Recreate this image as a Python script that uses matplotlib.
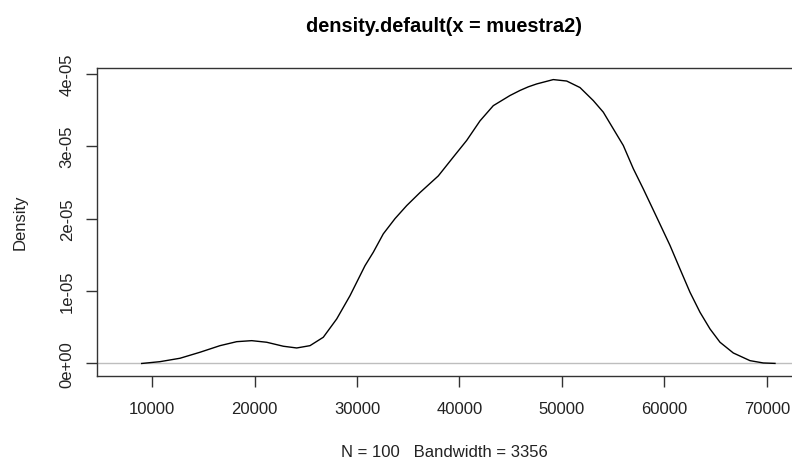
import numpy as np
import matplotlib
matplotlib.use('Agg')
import matplotlib.pyplot as plt

# density curve of muestra2
dens_x = [8995, 10780, 12732, 14683, 16634, 18263, 19727, 21190, 22810,
          24117, 25415, 26712, 28020, 29317, 30780, 31590, 32566, 33707,
          34848, 36146, 37932, 39395, 40702, 42000, 43297, 44926, 45902,
          46712, 47532, 49151, 50458, 51756, 53054, 54030, 55005, 55981,
          56956, 57932, 59239, 60537, 61512, 62488, 63463, 64439, 65415,
          66712, 68341, 69639, 70780]
dens_y = [0.0, 2.5e-7, 7.2e-7, 1.55e-6, 2.46e-6, 3.01e-6, 3.15e-6, 2.93e-6,
          2.38e-6, 2.14e-6, 2.46e-6, 3.62e-6, 6.15e-6, 9.36e-6, 1.35e-5,
          1.536e-5, 1.79e-5, 2.0e-5, 2.18e-5, 2.36e-5, 2.59e-5, 2.85e-5,
          3.08e-5, 3.35e-5, 3.56e-5, 3.70e-5, 3.77e-5, 3.82e-5, 3.86e-5,
          3.92e-5, 3.90e-5, 3.81e-5, 3.63e-5, 3.47e-5, 3.24e-5, 3.01e-5,
          2.69e-5, 2.41e-5, 2.02e-5, 1.63e-5, 1.305e-5, 9.83e-6, 7.07e-6,
          4.77e-6, 2.93e-6, 1.45e-6, 3.9e-7, 7e-8, 1e-8]

x_ticks = [10000, 20000, 30000, 40000, 50000, 60000, 70000]
y_ticks = [0, 1e-5, 2e-5, 3e-5, 4e-5]
y_tick_labels = ['0e+00', '1e-05', '2e-05', '3e-05', '4e-05']

title = 'density.default(x = muestra2)'
xlabel = 'N = 100   Bandwidth = 3356'
ylabel = 'Density'

plt.rcParams['font.family'] = ['Liberation Sans', 'DejaVu Sans']

W, H = 792, 464
fig = plt.figure(figsize=(W / 100, H / 100), dpi=100)
# box: left 97px, bottom 377px, top 69px, right edge runs past the image
ax = fig.add_axes([97 / W, (H - 377) / H, (800 - 97) / W, (377 - 69) / H])

ax.axhline(0, color='#bebebe', lw=1)
ax.plot(dens_x, dens_y, color='black', lw=1, solid_joinstyle='round')

ax.set_xlim(4634, 73220)
ax.set_ylim(-1.73e-6, 4.08e-5)

ax.set_xticks(x_ticks)
ax.set_xticklabels([str(t) for t in x_ticks])
ax.set_yticks(y_ticks)
ax.set_yticklabels(y_tick_labels, rotation=90, va='center')

for s in ax.spines.values():
    s.set_color('#333333')
    s.set_linewidth(1)
ax.tick_params(axis='both', direction='out', length=8, width=1,
               color='#333333', labelsize=12, labelcolor='#222222')
ax.tick_params(axis='x', pad=10)
ax.tick_params(axis='y', pad=8)

fig.text((97 + 792) / 2 / W, 1 - 27 / H, title, ha='center', va='center',
         fontsize=14.4, fontweight='bold')
fig.text((97 + 792) / 2 / W, 1 - 453 / H, xlabel, ha='center', va='center',
         fontsize=12, color='#222222')
fig.text(20 / W, 1 - 222 / H, ylabel, ha='center', va='center',
         rotation=90, fontsize=12, color='#222222')

fig.savefig('out.png', dpi=100)
